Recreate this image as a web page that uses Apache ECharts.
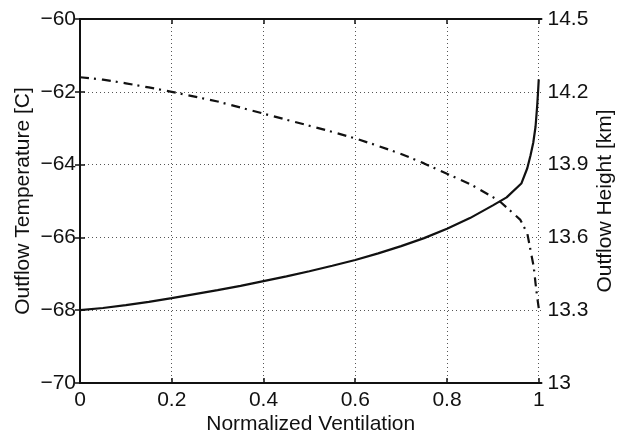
<!DOCTYPE html>
<html>
<head>
<meta charset="utf-8">
<script src="https://cdn.jsdelivr.net/npm/echarts@6/dist/echarts.min.js"></script>
<style>
  html, body { margin: 0; padding: 0; background: #fff; }
  #chart { width: 623px; height: 433px; }
</style>
</head>
<body>
<div id="chart"></div>
<script>
// Outflow temperature (left axis) against normalized ventilation
const ventTemp = [0, 0.05, 0.1, 0.15, 0.2, 0.25, 0.3, 0.35, 0.4, 0.45, 0.5, 0.55, 0.6, 0.65, 0.7, 0.75, 0.8, 0.85, 0.9, 0.93, 0.962, 0.975, 0.982, 0.988, 0.993, 0.9965, 0.9985, 1.0];
const tempC = [-68.00, -67.94, -67.86, -67.77, -67.67, -67.56, -67.45, -67.33, -67.20, -67.07, -66.93, -66.78, -66.62, -66.44, -66.24, -66.02, -65.76, -65.47, -65.12, -64.90, -64.52, -64.10, -63.75, -63.40, -62.96, -62.40, -62.00, -61.66];

// Outflow height (right axis) against normalized ventilation
const ventHeight = [0, 0.05, 0.1, 0.15, 0.2, 0.25, 0.3, 0.35, 0.4, 0.45, 0.5, 0.55, 0.6, 0.65, 0.7, 0.75, 0.8, 0.85, 0.9, 0.916, 0.938, 0.96, 0.975, 0.982, 0.989, 0.993, 0.9965, 1.0];
const heightKm = [14.26, 14.25, 14.235, 14.218, 14.20, 14.18, 14.16, 14.135, 14.11, 14.085, 14.06, 14.035, 14.008, 13.977, 13.944, 13.905, 13.862, 13.82, 13.766, 13.747, 13.71, 13.672, 13.617, 13.548, 13.479, 13.411, 13.356, 13.308];

// Tick values
const xTicks = [0, 0.2, 0.4, 0.6, 0.8, 1];
const tempTicks = [-70, -68, -66, -64, -62, -60];
const heightTicks = [13, 13.3, 13.6, 13.9, 14.2, 14.5];

const FONT = "'Liberation Sans', Arial, Helvetica, sans-serif";
const INK = '#111';

const tempSeries = ventTemp.map((v, i) => [v, tempC[i]]);
const heightSeries = ventHeight.map((v, i) => [v, heightKm[i]]);

const chart = echarts.init(document.getElementById('chart'), null, { renderer: 'canvas' });

const axisLine = { show: true, lineStyle: { color: INK, width: 2 } };
const gridDots = { show: true, lineStyle: { color: '#555', width: 1, type: [1, 3] } };
const labelText = { color: INK, fontFamily: FONT, fontSize: 21 };
const nameText = { color: INK, fontFamily: FONT, fontSize: 21 };
const tickStyle = ticks => ({ show: true, inside: true, length: 5, customValues: ticks, lineStyle: { color: INK, width: 1.5 } });

chart.setOption({
  animation: false,
  backgroundColor: '#fff',
  grid: { left: 80, right: 81.5, top: 19, bottom: 50, containLabel: false, outerBoundsMode: 'none' },
  xAxis: [
    {
      type: 'value',
      position: 'bottom',
      min: 0,
      max: 1.006,
      interval: 0.2,
      name: 'Normalized Ventilation',
      nameLocation: 'middle',
      nameMoveOverlap: false,
      nameGap: 31,
      nameTextStyle: nameText,
      axisLine: axisLine,
      axisTick: tickStyle(xTicks),
      axisLabel: Object.assign({ margin: 7, customValues: xTicks, formatter: v => String(v) }, labelText),
      splitLine: gridDots
    },
    {
      type: 'value',
      position: 'top',
      min: 0,
      max: 1.006,
      interval: 0.2,
      axisLine: axisLine,
      axisTick: tickStyle(xTicks),
      axisLabel: { show: false },
      splitLine: { show: false }
    }
  ],
  yAxis: [
    {
      type: 'value',
      position: 'left',
      min: -70,
      max: -60,
      interval: 2,
      name: 'Outflow Temperature [C]',
      nameLocation: 'middle',
      nameMoveOverlap: false,
      nameRotate: 90,
      nameGap: 46,
      nameTextStyle: nameText,
      axisLine: axisLine,
      axisTick: tickStyle(tempTicks),
      axisLabel: Object.assign({ margin: 4, customValues: tempTicks, formatter: v => String(v).replace('-', '\u2212') }, labelText),
      splitLine: gridDots
    },
    {
      type: 'value',
      position: 'right',
      min: 13,
      max: 14.5,
      name: 'Outflow Height [km]',
      nameLocation: 'middle',
      nameMoveOverlap: false,
      nameRotate: 90,
      nameGap: 53,
      nameTextStyle: nameText,
      axisLine: axisLine,
      axisTick: tickStyle(heightTicks),
      axisLabel: Object.assign({ margin: 6, customValues: heightTicks, formatter: v => String(v) }, labelText),
      splitLine: { show: false }
    }
  ],
  series: [
    {
      name: 'Outflow Temperature',
      type: 'line',
      xAxisIndex: 0,
      yAxisIndex: 0,
      data: tempSeries,
      showSymbol: false,
      silent: true,
      lineStyle: { color: INK, width: 2.2 },
      z: 3
    },
    {
      name: 'Outflow Height',
      type: 'line',
      xAxisIndex: 0,
      yAxisIndex: 1,
      data: heightSeries,
      showSymbol: false,
      silent: true,
      lineStyle: { color: INK, width: 2.2, type: [9, 5, 2, 6] },
      z: 3
    }
  ]
});
</script>
</body>
</html>
